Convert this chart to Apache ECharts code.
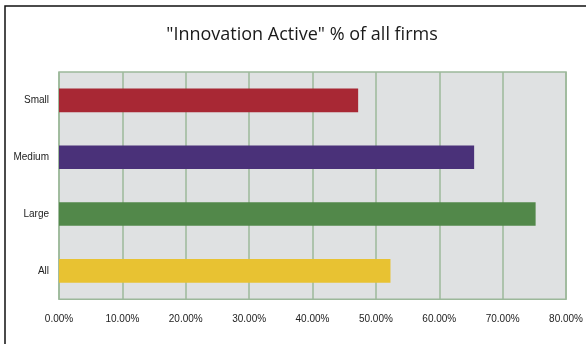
<!DOCTYPE html>
<html>
<head>
<meta charset="utf-8">
<script src="https://cdn.jsdelivr.net/npm/echarts@6/dist/echarts.min.js"></script>
<style>
html,body{margin:0;padding:0;background:#fff;}
#c{width:586px;height:344px;}
</style>
</head>
<body>
<div id="c"></div>
<script>
const categories = ['Small', 'Medium', 'Large', 'All'];
const values = [0.472, 0.655, 0.752, 0.523];
const xTicks = [0, 0.1, 0.2, 0.3, 0.4, 0.5, 0.6, 0.7, 0.8];
const barColors = ['#a82834', '#4a3179', '#52884a', '#e8c232'];

const chart = echarts.init(document.getElementById('c'), null, {renderer: 'canvas'});
chart.setOption({
  animation: false,
  backgroundColor: '#ffffff',
  graphic: [{
    type: 'rect',
    shape: {x: 5, y: 6, width: 700, height: 500},
    style: {fill: 'none', stroke: '#111', lineWidth: 1.5},
    silent: true,
    z: 0
  }],
  title: {
    text: '"Innovation Active" % of all firms',
    left: 297,
    textAlign: 'center',
    top: 21,
    textStyle: {fontFamily: 'Open Sans', fontSize: 18, fontWeight: 'normal', color: '#1a1a1a'}
  },
  grid: {
    left: 59, right: 16.5, top: 72, bottom: 44.7,
    show: true,
    backgroundColor: '#dfe1e2',
    borderColor: '#9cb89a',
    borderWidth: 1.5
  },
  xAxis: {
    type: 'value',
    min: xTicks[0],
    max: xTicks[xTicks.length - 1],
    interval: 0.1,
    axisLine: {show: false},
    axisTick: {show: false},
    splitLine: {show: true, lineStyle: {color: '#9cb89a', width: 1.5}},
    axisLabel: {
      margin: 15,
      fontFamily: 'Liberation Sans',
      fontSize: 10,
      color: '#222',
      formatter: v => (v * 100).toFixed(2) + '%'
    }
  },
  yAxis: {
    type: 'category',
    inverse: true,
    data: categories,
    axisLine: {show: false},
    axisTick: {show: false},
    splitLine: {show: false},
    axisLabel: {margin: 10, fontFamily: 'Liberation Sans', fontSize: 10, color: '#222'}
  },
  series: [{
    type: 'bar',
    barWidth: '41.5%',
    data: values.map((v, i) => ({value: v, itemStyle: {color: barColors[i]}}))
  }]
});
</script>
</body>
</html>
